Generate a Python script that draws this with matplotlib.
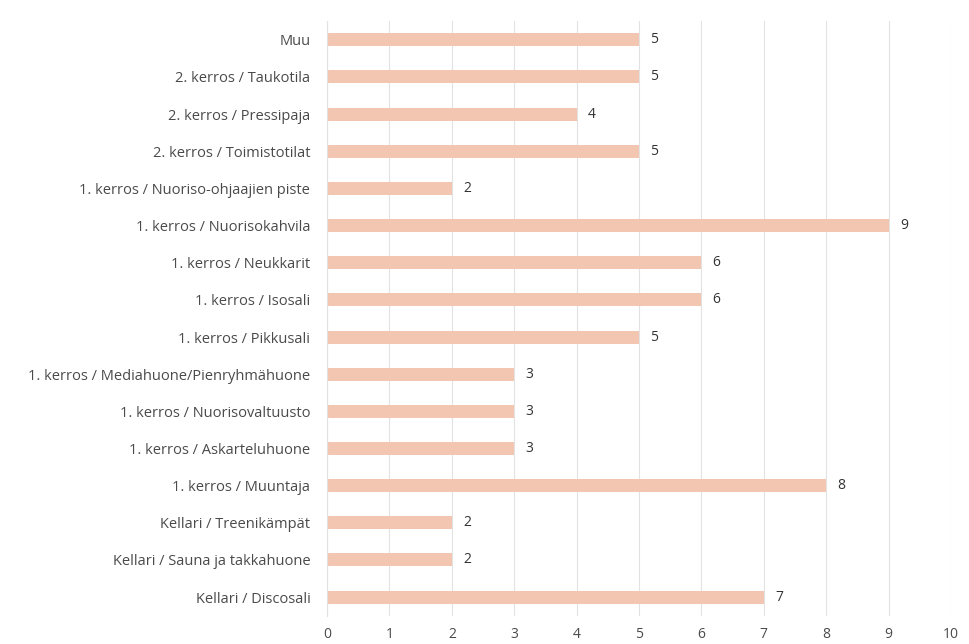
import matplotlib
matplotlib.use("Agg")
import matplotlib.pyplot as plt

labels = [
    "Muu",
    "2. kerros / Taukotila",
    "2. kerros / Pressipaja",
    "2. kerros / Toimistotilat",
    "1. kerros / Nuoriso-ohjaajien piste",
    "1. kerros / Nuorisokahvila",
    "1. kerros / Neukkarit",
    "1. kerros / Isosali",
    "1. kerros / Pikkusali",
    "1. kerros / Mediahuone/Pienryhmähuone",
    "1. kerros / Nuorisovaltuusto",
    "1. kerros / Askarteluhuone",
    "1. kerros / Muuntaja",
    "Kellari / Treenikämpät",
    "Kellari / Sauna ja takkahuone",
    "Kellari / Discosali",
]
values = [5, 5, 4, 5, 2, 9, 6, 6, 5, 3, 3, 3, 8, 2, 2, 7]
xticks = list(range(0, 11))

plt.rcParams['font.family'] = ['Open Sans', 'DejaVu Sans']

fig = plt.figure(figsize=(9.69, 6.44), dpi=100)
ax = fig.add_axes([0.3375, 0.044, 0.644, 0.923])

y = list(range(len(labels)))
ax.barh(y, values, height=0.35, color="#f3c6b2", zorder=2)
for yi, v in zip(y, values):
    ax.text(v + 0.18, yi, str(v), va="center", ha="left", fontsize=10, color="#333333")

ax.set_yticks(y)
ax.set_yticklabels(labels, fontsize=10.5, color="#4a4a4a")
ax.set_ylim(len(labels) - 0.5, -0.5)
ax.set_xlim(0, 10)
ax.set_xticks(xticks)
ax.set_xticklabels([str(t) for t in xticks], fontsize=10, color="#4a4a4a")
ax.grid(axis="x", color="#e2e2e2", linewidth=0.8, zorder=0)
for s in ["top", "right", "bottom"]:
    ax.spines[s].set_visible(False)
ax.spines["left"].set_color("#e2e2e2")
ax.tick_params(axis="y", length=0, pad=12)
ax.tick_params(axis="x", length=0, pad=8)

fig.savefig("out.png", dpi=100)
